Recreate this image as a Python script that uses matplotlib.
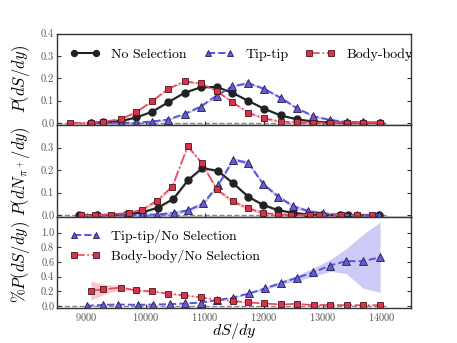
import matplotlib
matplotlib.use("Agg")
import matplotlib.pyplot as plt
import numpy as np
from matplotlib.ticker import FormatStrFormatter

plt.rcParams["font.family"] = "serif"
plt.rcParams["font.serif"] = ["cmr10"]
plt.rcParams["mathtext.fontset"] = "cm"
plt.rcParams["axes.formatter.use_mathtext"] = True

# top panel: P(dS/dy)
x_top = [8720, 9080, 9280, 9580, 9840, 10110, 10380, 10660, 10930, 11200,
         11470, 11740, 12010, 12290, 12560, 12840, 13120, 13410, 13690, 13970]
body_top = [0.000, 0.001, 0.005, 0.017, 0.048, 0.097, 0.153, 0.186, 0.177, 0.143,
            0.093, 0.045, 0.020, 0.006, 0.003, 0.001, 0.001, 0.001, 0.001, 0.001]
none_top = [0.000, 0.001, 0.002, 0.008, 0.024, 0.050, 0.092, 0.135, 0.159, 0.161,
            0.135, 0.098, 0.063, 0.033, 0.016, 0.006, 0.002, 0.001, 0.001, 0.001]
tip_top = [0.000, 0.000, 0.000, 0.000, 0.001, 0.006, 0.015, 0.040, 0.073, 0.122,
           0.164, 0.178, 0.152, 0.112, 0.066, 0.030, 0.013, 0.004, 0.002, 0.001]

# middle panel: P(dN_pi+/dy)
x_body_mid = [8903, 9141, 9407, 9717, 9942, 10187, 10451, 10712, 10949, 11204,
              11471, 11739, 11993, 12248, 12463, 12785, 12943, 13311, 13577, 13831]
body_mid = [0.000, 0.000, 0.003, 0.010, 0.025, 0.064, 0.127, 0.306, 0.232, 0.115,
            0.062, 0.030, 0.010, 0.003, 0.001, 0.001, 0.0005, 0.0005, 0.0005, 0.0005]
x_none_mid = [8869, 9170, 9678, 9942, 10203, 10468, 10722, 10959, 11220, 11480,
              11739, 11993, 12248, 12502, 12756, 12988, 13293, 13434, 13960]
none_mid = [0.000, 0.000, 0.004, 0.013, 0.033, 0.072, 0.157, 0.209, 0.197, 0.142,
            0.082, 0.045, 0.022, 0.010, 0.003, 0.001, 0.0005, 0.0005, 0.0005]
x_tip_mid = [9197, 9678, 9942, 10187, 10485, 10722, 10976, 11231, 11485, 11739,
             11993, 12248, 12502, 12756, 13010, 13293, 13576, 13960]
tip_mid = [0.000, 0.000, 0.001, 0.003, 0.010, 0.022, 0.052, 0.135, 0.247, 0.232,
           0.138, 0.082, 0.040, 0.018, 0.008, 0.002, 0.001, 0.0005]

# bottom panel: ratios
x_body_rat = [9073, 9281, 9581, 9836, 10112, 10383, 10654, 10932, 11204, 11475,
              11739, 12010, 12293, 12559, 12853, 13124, 13407, 13688, 13971]
body_rat = [0.206, 0.224, 0.250, 0.211, 0.198, 0.167, 0.144, 0.117, 0.086, 0.067,
            0.046, 0.032, 0.019, 0.027, 0.009, 0.013, 0.009, 0.009, 0.009]
body_rat_err = [0.13, 0.07, 0.025, 0.015, 0.012, 0.010, 0.008, 0.007, 0.006, 0.005,
                0.005, 0.004, 0.004, 0.004, 0.004, 0.004, 0.004, 0.004, 0.004]
x_tip_rat = [9000, 9281, 9536, 9875, 10129, 10412, 10666, 10932, 11204, 11480,
             11756, 12022, 12293, 12559, 12841, 13124, 13395, 13688, 13971]
tip_rat = [0.000, 0.013, 0.018, 0.013, 0.018, 0.022, 0.032, 0.045, 0.077, 0.113,
           0.170, 0.238, 0.314, 0.382, 0.457, 0.551, 0.610, 0.610, 0.664]
tip_rat_err = [0.0, 0.0, 0.0, 0.0, 0.0, 0.001, 0.003, 0.004, 0.005, 0.008,
               0.012, 0.018, 0.025, 0.035, 0.06, 0.08, 0.17, 0.37, 0.48]

band_top = 0.005
band_mid = 0.008

c_none = "#222222"
c_tip = "#5555e0"
c_body = "#e8475f"

sty_none = dict(color=c_none, ls="-", lw=1.5, marker="o", ms=5, mfc=c_none, mec=c_none)
sty_tip = dict(color=c_tip, ls="--", lw=1.4, marker="^", ms=5.5, mfc="#6a5acd", mec="#1c1c5a", mew=0.6)
sty_body = dict(color=c_body, ls="-.", lw=1.2, marker="s", ms=5, mfc="#d8334a", mec="#4a1515", mew=0.6)

fig, axes = plt.subplots(3, 1, figsize=(4.57, 3.43), dpi=100, sharex=True)
plt.subplots_adjust(left=0.125, right=0.9, top=0.902, bottom=0.102, hspace=0)
ax1, ax2, ax3 = axes

def band(ax, x, y, e, c, a=0.3):
    x = np.array(x); y = np.array(y); e = np.array(e) * np.ones(len(y))
    ax.fill_between(x, y - e, y + e, color=c, alpha=a, lw=0)

# top
band(ax1, x_top, body_top, band_top, c_body)
band(ax1, x_top[1:], none_top[1:], band_top, c_none, 0.15)
band(ax1, x_top[1:], tip_top[1:], band_top, c_tip)
ax1.plot(x_top[1:], none_top[1:], label="No Selection", **sty_none)
ax1.plot(x_top[1:], tip_top[1:], label="Tip-tip", **sty_tip)
ax1.plot(x_top, body_top, label="Body-body", **sty_body)
ax1.set_ylim(-0.01, 0.4)
ax1.set_yticks([0.0, 0.1, 0.2, 0.3, 0.4])
ax1.set_ylabel(r"$P(dS/dy)$", fontsize=12)
ax1.legend(loc="upper left", bbox_to_anchor=(0.0, 0.98), ncol=3, frameon=False, numpoints=2,
           fontsize=10, handlelength=2.2, columnspacing=1.2, handletextpad=0.8, markerscale=0.85)

# middle
band(ax2, x_body_mid, body_mid, band_mid, c_body)
band(ax2, x_none_mid, none_mid, band_mid, c_none, 0.15)
band(ax2, x_tip_mid, tip_mid, band_mid, c_tip)
ax2.plot(x_none_mid, none_mid, **sty_none)
ax2.plot(x_tip_mid, tip_mid, **sty_tip)
ax2.plot(x_body_mid, body_mid, **sty_body)
ax2.set_ylim(-0.006, 0.4)
ax2.set_yticks([0.0, 0.1, 0.2, 0.3])
ax2.set_ylabel(r"$P(dN_{\pi^+}/dy)$", fontsize=12)

# bottom
band(ax3, x_body_rat, body_rat, body_rat_err, c_body)
band(ax3, x_tip_rat, tip_rat, tip_rat_err, c_tip)
ax3.plot(x_tip_rat, tip_rat, label="Tip-tip/No Selection", **sty_tip)
ax3.plot(x_body_rat, body_rat, label="Body-body/No Selection", **sty_body)
ax3.set_ylim(-0.03, 1.22)
ax3.set_yticks([0.0, 0.2, 0.4, 0.6, 0.8, 1.0])
ax3.set_ylabel(r"$\%P(dS/dy)$", fontsize=12)
ax3.legend(loc="upper left", bbox_to_anchor=(0.0, 1.0), frameon=False, numpoints=2,
           fontsize=10, handlelength=2.2, handletextpad=0.8, labelspacing=0.5, markerscale=0.85)
ax3.set_xlabel(r"$dS/dy$", fontsize=11.5, labelpad=-1)

for ax in axes:
    ax.hlines(0, 8500, 14100, colors="#888888", linestyles="--", lw=1, zorder=0)
    ax.set_xlim(8500, 14500)
    ax.set_xticks([9000, 10000, 11000, 12000, 13000, 14000])
    ax.yaxis.set_major_formatter(FormatStrFormatter("%.1f"))
    ax.tick_params(direction="in", right=True, length=3, pad=2, labelsize=7.5, colors="#333333")
    ax.tick_params(axis="y", labelcolor="#555555")
    ax.tick_params(axis="x", labelcolor="#555555")
    for s in ax.spines.values():
        s.set_color("#333333")
        s.set_linewidth(1.0)
    ax.yaxis.set_label_coords(-0.07, 0.5)

plt.savefig("out.png", dpi=100)
